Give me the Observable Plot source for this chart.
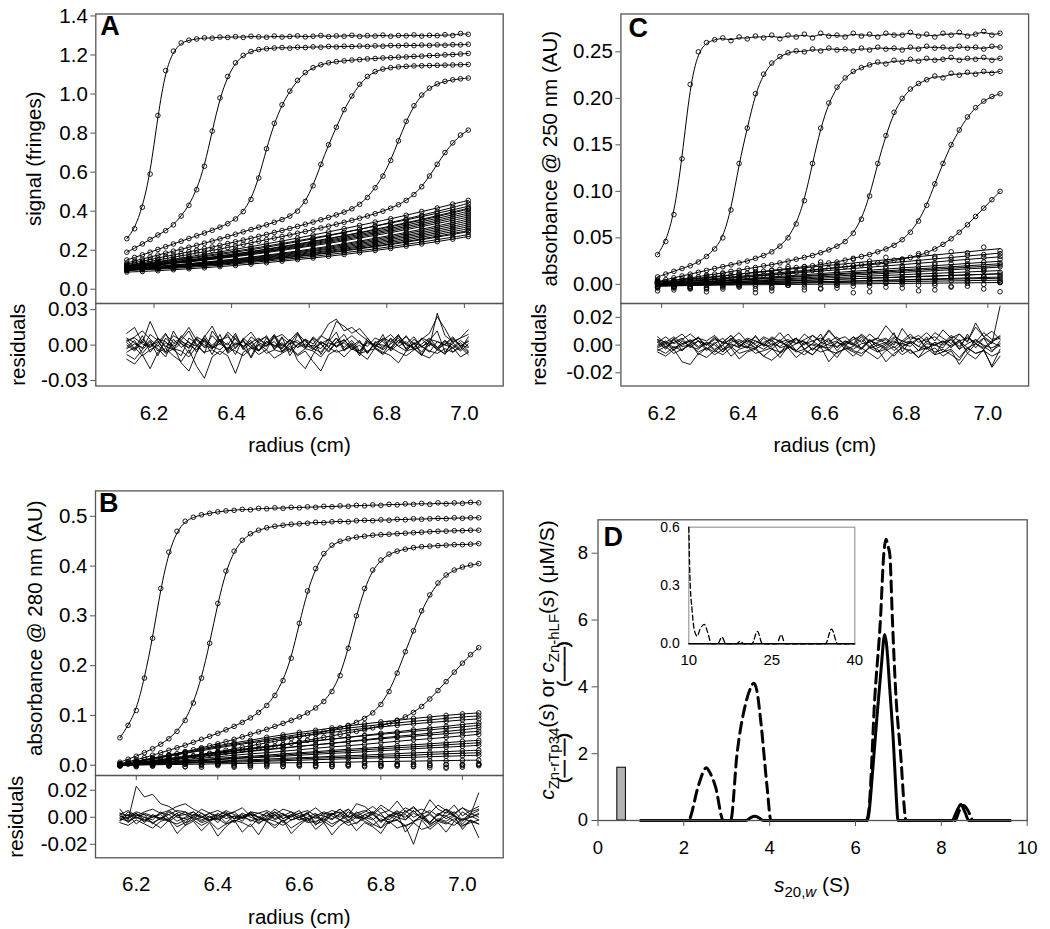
<!DOCTYPE html>
<html>
<head>
<meta charset="utf-8">
<script src="https://cdn.jsdelivr.net/npm/d3@7"></script>
<script src="https://cdn.jsdelivr.net/npm/@observablehq/plot@0.6"></script>
<style>
html,body{margin:0;padding:0;background:#fff;}
#fig{position:relative;width:1050px;height:929px;overflow:hidden;background:#fff;font-family:'Liberation Sans',Arial,Helvetica,sans-serif;}
</style>
</head>
<body>
<div id="fig"></div>
<script>
// ---------------- tick labels ----------------
const xTicksRadius = [6.2, 6.4, 6.6, 6.8, 7.0];
const yTicksA = [0, 0.2, 0.4, 0.6, 0.8, 1.0, 1.2, 1.4];
const yTicksB = [0, 0.1, 0.2, 0.3, 0.4, 0.5];
const yTicksC = [0, 0.05, 0.10, 0.15, 0.20, 0.25];
const resTicksA = [-0.03, 0, 0.03];
const resTicksBC = [-0.02, 0, 0.02];
const xTicksD = [0, 2, 4, 6, 8, 10];
const yTicksD = [0, 2, 4, 6, 8];
const xTicksInset = [10, 25, 40];
const yTicksInset = [0, 0.3, 0.6];

// ---------------- radius grids (cm) ----------------
const gridA = [6.13,6.15,6.17,6.19,6.21,6.23,6.25,6.27,6.29,6.31,6.33,6.35,6.37,6.39,6.41,6.43,6.45,6.47,6.49,6.51,6.53,6.55,6.57,6.59,6.61,6.63,6.65,6.67,6.69,6.71,6.73,6.75,6.77,6.79,6.81,6.83,6.85,6.87,6.89,6.91,6.93,6.95,6.97,6.99,7.01];
const gridA2 = [6.13,6.17,6.21,6.25,6.29,6.33,6.37,6.41,6.45,6.49,6.53,6.57,6.61,6.65,6.69,6.73,6.77,6.81,6.85,6.89,6.93,6.97,7.01];
const gridB = [6.16,6.18,6.20,6.22,6.24,6.26,6.28,6.30,6.32,6.34,6.36,6.38,6.40,6.42,6.44,6.46,6.48,6.50,6.52,6.54,6.56,6.58,6.60,6.62,6.64,6.66,6.68,6.70,6.72,6.74,6.76,6.78,6.80,6.82,6.84,6.86,6.88,6.90,6.92,6.94,6.96,6.98,7.00,7.02,7.04];
const gridB2 = [6.16,6.20,6.24,6.28,6.32,6.36,6.40,6.44,6.48,6.52,6.56,6.60,6.64,6.68,6.72,6.76,6.80,6.84,6.88,6.92,6.96,7.00,7.04];
const gridC = [6.19,6.21,6.23,6.25,6.27,6.29,6.31,6.33,6.35,6.37,6.39,6.41,6.43,6.45,6.47,6.49,6.51,6.53,6.55,6.57,6.59,6.61,6.63,6.65,6.67,6.69,6.71,6.73,6.75,6.77,6.79,6.81,6.83,6.85,6.87,6.89,6.91,6.93,6.95,6.97,6.99,7.01,7.03];
const gridC2 = [6.19,6.23,6.27,6.31,6.35,6.39,6.43,6.47,6.51,6.55,6.59,6.63,6.67,6.71,6.75,6.79,6.83,6.87,6.91,6.95,6.99,7.03];

// ---------------- Panel A: signal (fringes) x 1000 ----------------
const A1 = [259,310,420,590,890,1120,1220,1262,1276,1282,1288,1286,1292,1290,1294,1290,1296,1293,1291,1297,1292,1295,1298,1293,1296,1300,1294,1298,1296,1301,1295,1299,1297,1302,1296,1300,1298,1303,1297,1301,1299,1304,1300,1310,1306];
const A2 = [190,210,232,255,278,300,330,375,430,510,630,810,980,1090,1160,1198,1218,1228,1232,1236,1238,1235,1240,1238,1242,1240,1244,1241,1245,1243,1246,1244,1247,1245,1249,1247,1250,1248,1251,1249,1252,1250,1253,1252,1255];
const A3 = [150,163,176,190,204,218,232,246,260,274,288,302,318,336,360,398,460,570,720,850,945,1015,1070,1110,1135,1150,1160,1166,1170,1174,1176,1180,1182,1185,1186,1189,1190,1193,1194,1197,1198,1201,1202,1205,1208];
const A4 = [135,145,155,165,175,185,195,205,215,225,236,247,258,270,282,294,306,318,330,343,357,375,400,450,530,640,740,830,920,990,1050,1090,1115,1128,1135,1139,1142,1144,1145,1146,1147,1148,1149,1150,1152];
const A5 = [128,136,144,152,160,168,176,184,192,200,208,216,225,234,243,252,261,271,281,291,301,311,322,333,344,356,368,381,395,412,435,470,520,580,660,760,860,940,995,1030,1052,1065,1073,1078,1082];
const A6 = [122,129,136,143,150,157,164,171,178,185,192,199,206,214,222,230,238,246,254,262,270,278,287,296,305,314,323,333,343,353,364,375,387,400,415,433,455,485,525,580,640,700,750,790,815];
const AL1 = [120,131,142,154,166,179,191,205,218,233,247,262,278,294,310,327,344,361,379,398,416,436,455];
const AL2 = [118,128,138,149,160,172,183,196,208,221,235,248,263,277,292,307,323,339,355,372,389,407,425];
const AL3 = [115,123,131,139,149,159,169,180,191,204,216,229,243,257,272,288,303,320,337,354,372,391,410];
const AL4 = [112,119,127,135,144,153,163,173,184,195,207,220,233,246,260,275,289,305,321,337,354,372,390];
const AL5 = [110,117,124,132,140,148,158,167,177,188,199,211,223,235,248,262,276,290,305,321,337,353,370];
const AL6 = [107,112,117,123,130,137,144,153,162,171,181,192,203,215,228,241,255,269,284,300,316,333,350];
const AL7 = [104,108,113,119,125,132,139,146,155,164,173,183,194,205,216,229,241,255,269,283,298,314,330];
const AL8 = [101,105,110,115,120,126,133,140,148,156,165,174,184,194,205,216,228,240,253,267,281,295,310];
const AL9 = [98,102,106,111,116,122,128,135,142,150,158,167,176,186,196,207,218,229,241,254,267,281,295];
const AL10 = [95,99,103,107,112,118,123,130,137,144,152,160,168,178,187,197,207,218,230,242,254,267,280];
const AL11 = [119,127,136,146,156,167,178,190,202,215,229,244,258,274,290,307,324,342,360,379,399,419,440];
const AL12 = [116,124,132,141,150,160,171,182,193,206,219,232,246,260,275,291,307,324,341,358,377,396,415];
const AL13 = [113,120,128,137,146,155,166,176,187,199,211,224,238,251,266,281,296,312,329,346,363,381,400];
const AL14 = [111,118,126,133,142,151,160,170,181,192,203,215,228,241,254,268,283,298,313,329,346,363,380];
const AL15 = [108,113,118,125,131,139,147,155,165,175,185,196,208,220,233,247,261,276,291,308,324,342,360];
const AL16 = [105,109,115,121,127,134,141,149,158,167,177,187,198,210,222,235,248,262,276,291,307,323,340];
const AL17 = [102,106,111,116,122,129,136,143,151,160,169,178,188,199,210,222,235,247,261,275,289,305,320];
const AL18 = [99,103,107,112,118,124,130,137,144,152,161,169,179,189,199,210,221,233,245,258,272,286,300];
const AL19 = [88,91,95,100,105,110,116,122,129,136,144,152,160,169,178,188,199,209,221,232,244,257,270];
// residuals A x 1000
const RA1 = [5,-3,8,-6,2,10,-4,-9,6,1,-7,12,3,-5,8,-2,-10,4,7,-3,1,-6,9,-1,5,-8,3,11,-4,2,-7,6,-2,9,-5,1,8,-3,-9,4,12,-6,2,-4,7];
const RA2 = [-8,-12,-4,3,-9,6,-1,-15,-22,-6,4,-3,9,-7,-2,5,-11,1,-4,8,-6,2,-13,-20,-8,3,-2,6,-5,1,-9,4,-3,-7,2,9,-4,1,-6,3,-2,-8,5,-1,-6];
const RA3 = [10,15,2,20,6,-2,8,4,12,-1,7,16,3,9,-3,5,11,2,8,-4,6,1,10,3,-2,7,18,22,12,15,9,4,-1,6,3,8,1,-3,5,10,24,14,2,6,9];
const RA4 = [-2,4,-7,1,-3,-10,5,-2,3,-6,8,-1,-4,2,-8,6,0,-5,3,-2,7,-9,1,4,-3,-6,2,-1,5,-4,0,-7,3,-2,6,-1,-5,2,-8,1,-3,4,-6,0,-2];
const RA5 = [-12,-16,-8,-20,-6,-3,-9,-14,-4,-18,-28,-10,-5,-9,-24,-6,-2,-8,-4,-11,-7,-3,-9,-5,-14,-22,-8,-4,-10,-3,-7,-12,-2,-6,-9,-15,-5,-3,-8,-11,-4,-7,-2,-10,-6];
const RA6 = [3,7,12,5,-1,9,2,6,15,4,-2,8,1,11,5,-3,7,2,-1,6,9,3,-2,5,1,8,4,20,16,10,14,6,-2,4,9,2,7,1,5,-1,27,8,3,6,13];
const RA7 = [0,-5,3,-2,6,-1,-4,2,-7,5,0,-3,4,-6,1,3,-2,-5,6,-1,2,-4,0,5,-3,1,-6,2,4,-2,-5,3,0,-4,1,6,-3,2,-1,-6,3,0,-2,4,-1];
const RA8 = [6,2,-3,9,4,-6,12,1,-2,7,3,-8,5,0,10,-4,2,6,-1,8,-3,4,11,-2,6,1,-5,3,9,-1,4,-7,2,5,-3,8,0,-2,6,3,-4,1,7,-1,3];
const RA9 = [2,-4,5,-1,3,-6,1,4,-3,6,-2,0,5,-4,2,-1,4,-5,3,0,-3,5,-2,1,-4,3,-1,6,-2,4,-5,2,0,-3,5,-1,3,-4,1,6,-2,4,-3,2,-5];
const RA10 = [-3,1,-2,4,-5,2,-1,3,0,-4,5,-2,1,-3,6,-1,2,-4,0,3,-5,1,4,-2,0,-3,5,-1,2,-4,3,-6,1,0,-2,4,-3,5,-1,2,-4,3,0,-5,1];
const RA11 = [4,6,1,-2,5,3,-4,8,2,-1,6,-3,4,7,0,3,-2,5,1,9,-1,4,2,-3,7,1,5,-2,3,8,2,-1,6,3,-4,4,1,7,-2,5,3,0,6,-1,4];
const RA12 = [-6,-2,-9,-4,0,-7,-3,-5,-10,-1,-6,-4,-8,-2,-5,-9,-3,0,-7,-4,-6,-1,-8,-3,-5,-10,-2,-6,-4,-1,-7,-5,-3,-8,-2,-6,-9,-4,-1,-5,-7,-3,-6,-2,-8];

// ---------------- Panel B: absorbance @ 280 nm x 1000 ----------------
const B1 = [55,80,110,175,255,355,428,470,490,498,503,506,509,511,512,514,513,516,515,517,516,518,517,519,518,520,519,521,520,522,521,523,522,524,523,525,524,526,524,527,525,527,526,528,527];
const B2 = [6,12,18,25,33,42,53,68,90,125,175,245,325,390,430,452,465,472,477,480,482,484,485,486,488,487,489,490,489,491,492,491,493,492,494,493,495,494,495,496,495,497,496,497,497];
const B3 = [3,7,11,15,20,25,30,35,40,46,52,58,64,71,78,86,95,106,120,140,170,215,285,350,395,425,442,450,455,458,460,462,463,464,465,466,467,468,469,470,470,471,471,472,472];
const B4 = [2,5,8,11,14,17,20,23,27,31,35,39,43,47,52,57,62,67,72,78,84,90,97,105,115,128,148,180,235,300,355,392,412,424,430,434,437,439,440,441,442,443,443,444,445];
const B5 = [1,3,5,7,9,11,13,15,17,19,21,24,27,30,33,36,39,42,45,48,51,54,57,60,63,67,71,75,80,86,94,105,122,148,185,228,270,310,342,366,382,392,398,402,405];
const B6 = [0,2,4,6,8,10,12,14,16,18,20,22,24,26,28,30,32,34,36,38,41,44,47,50,53,56,59,62,65,68,71,75,79,84,90,97,106,118,133,150,168,187,205,222,236];
const BL1 = [0,7,14,21,27,33,39,45,50,56,61,66,70,75,79,83,87,90,94,97,100,103,105];
const BL2 = [0,6,12,18,24,29,35,40,45,49,54,58,62,66,70,74,77,80,83,86,88,91,93];
const BL3 = [0,4,9,13,17,21,25,29,33,37,41,45,49,53,56,60,64,67,71,75,78,82,85];
const BL4 = [0,3,7,10,14,17,21,24,28,31,34,38,41,44,48,51,55,58,61,64,68,71,75];
const BL5 = [0,3,6,8,11,14,17,20,23,25,28,31,34,37,39,42,45,48,51,53,56,59,62];
const BL6 = [0,2,5,7,9,11,14,16,18,20,23,25,27,30,32,34,36,39,41,43,45,48,50];
const BL7 = [0,2,4,5,7,9,11,13,15,16,18,20,22,24,25,27,29,31,33,35,36,38,40];
const BL8 = [0,1,3,4,5,7,8,10,11,12,14,15,16,18,19,20,22,23,25,26,27,29,30];
const BL9 = [0,1,2,3,4,5,5,6,7,8,9,10,11,12,13,14,15,15,16,17,18,19,20];
const BL10 = [0,0,1,1,2,2,3,3,4,4,5,5,5,6,6,7,7,8,8,9,9,10,10];
const BL11 = [0,7,13,19,25,31,37,42,47,52,57,62,66,70,75,78,82,85,88,91,94,97,99];
const BL12 = [0,4,9,13,18,22,26,30,34,38,41,45,49,52,56,59,62,65,68,71,74,77,80];
const BL13 = [0,4,8,11,15,18,22,25,29,32,35,38,41,44,47,50,53,56,58,61,63,66,68];
const BL14 = [0,2,4,6,8,10,12,14,16,18,20,23,25,27,29,31,33,35,37,39,41,43,45];
const BL15 = [0,1,2,3,5,6,7,8,9,10,11,13,14,15,16,17,18,19,20,22,23,24,25];
const BN1 = [2,-3,1,-2,3,-1,2,-4,0,3,-2,1,-3,2,0,-1,3,-2,1,-5,2,-1,3];
const BN2 = [-2,1,-1,3,-3,2,-1,0,-4,1,3,-2,0,-3,2,4,-1,1,-3,0,-6,2,1];
const BN3 = [-1,3,-2,0,2,-4,1,3,-1,-3,2,0,4,-2,1,-3,0,2,-2,3,-4,1,-1];
const BN4 = [1,-2,2,-1,-3,1,3,-2,2,0,-3,2,-1,1,-2,3,-3,0,2,-1,1,-4,2];
// residuals B x 1000
const RB1 = [6,-2,23,15,17,10,8,4,2,-1,3,0,-2,1,4,-1,2,0,-3,1,3,-2,0,2,-1,3,1,-2,4,0,-1,2,-3,1,5,-2,3,0,-4,2,6,1,-3,2,18];
const RB2 = [-3,2,-5,0,-4,-8,-2,-12,-6,-3,-10,-4,-14,-7,-2,-11,-5,-13,-3,-8,-2,-12,-6,-1,-9,-4,-13,-6,-2,-10,-4,-7,-12,-3,-8,-6,-20,-2,-9,-4,-11,-3,-7,-2,-15];
const RB3 = [1,-1,3,-2,0,2,-3,1,4,-2,0,3,-1,2,-4,1,3,0,-2,4,-1,2,5,-3,1,-2,3,0,6,-1,2,4,-3,1,-2,5,0,3,-4,2,1,-3,4,0,2];
const RB4 = [-2,4,0,-3,2,-1,5,8,10,6,3,-2,1,4,-1,2,-3,0,3,-2,1,4,-2,0,3,-4,2,6,1,10,8,3,9,5,12,4,7,2,13,6,3,9,1,5,8];
const RB5 = [3,-4,1,2,-5,0,-2,3,-6,1,-3,0,2,-4,1,-1,3,-5,0,2,-3,1,-2,4,-6,0,3,-2,1,-5,2,-1,-8,0,3,-11,-4,2,-6,-1,-3,1,-9,-2,-5];
const RB6 = [0,2,-1,3,1,-2,4,0,-1,2,1,-3,0,2,-1,3,0,-2,1,4,-1,2,0,-3,2,1,-2,3,0,2,-1,4,1,-2,3,0,5,-1,2,-3,4,1,-2,3,0];
const RB7 = [-4,-6,-2,-5,-8,-3,-1,-7,-4,-2,-6,-3,-9,-5,-2,-4,-7,-1,-3,-6,-2,-8,-4,-1,-5,-3,-7,-2,-6,-4,-1,-5,-8,-3,-2,-6,-4,-9,-7,-3,-5,-1,-6,-4,-2];
const RB8 = [2,5,1,4,6,3,2,5,4,1,6,3,5,2,4,7,1,3,5,2,6,4,1,3,7,2,5,3,6,1,4,8,3,5,2,7,4,6,3,9,5,2,7,4,6];
const RB9 = [1,-3,2,0,-2,4,-1,3,-4,2,0,-2,3,-1,1,-3,4,0,-2,2,-4,1,3,-1,0,-3,2,4,-2,1,-1,3,-4,2,0,-2,5,-1,3,-3,1,4,-2,0,3];
const RB10 = [-2,0,3,-4,1,-1,2,-3,0,4,-2,1,-4,3,-1,0,2,-3,4,-1,2,-2,0,3,-4,1,-1,2,-3,4,0,-2,3,-5,1,2,-3,1,-4,3,-1,2,-5,1,-2];
const RB11 = [3,1,4,2,0,3,5,1,2,4,0,3,1,5,2,0,4,3,1,6,2,0,3,5,1,4,2,6,0,3,5,2,7,1,4,3,8,2,5,1,6,3,7,2,5];
const RB12 = [-1,-3,0,-2,-4,-1,-3,-5,-2,0,-4,-2,-1,-5,-3,0,-2,-4,-1,-3,-6,-2,0,-4,-3,-1,-5,-2,-4,0,-3,-6,-1,-4,-2,-7,-3,-1,-5,-2,-4,-6,-1,-3,-5];

// ---------------- Panel C: absorbance @ 250 nm x 1000 ----------------
const C1 = [32,46,75,135,215,250,260,263,265,262,266,264,267,265,268,264,268,266,269,265,270,267,268,266,270,267,269,266,270,268,268,271,267,269,266,270,268,271,267,269,272,268,270];
const C2 = [8,11,14,17,20,24,30,38,50,80,130,168,205,226,238,245,249,251,250,253,251,254,252,253,251,254,252,255,253,254,252,255,253,256,254,255,253,256,254,255,253,256,255];
const C3 = [3,5,7,9,11,13,15,17,19,21,23,25,28,31,35,41,50,65,90,130,168,195,212,222,229,233,236,239,237,241,239,242,240,243,241,242,244,241,243,242,244,241,243];
const C4 = [2,3,4,6,7,8,10,11,12,14,15,17,18,20,21,23,25,27,29,31,34,37,41,46,55,70,95,130,160,185,200,210,216,220,224,222,227,225,228,226,229,227,229];
const C5 = [1,2,3,4,5,6,7,8,9,10,11,12,13,14,15,16,17,18,19,20,21,23,24,26,28,30,32,35,38,42,48,56,68,85,108,130,150,166,180,190,197,202,205];
const C6 = [0,1,2,2,3,4,5,5,6,7,8,8,9,10,11,11,12,13,14,15,16,17,18,19,20,21,22,23,24,26,27,29,31,34,38,43,49,56,64,73,82,91,100];
const CL1 = [2,0,8,5,12,9,16,11,19,17,24,20,27,22,29,25,33,28,35,31,40,36];
const CL2 = [-3,4,1,9,5,12,8,15,11,19,14,21,17,25,19,27,23,30,26,34,29,33];
const CL3 = [3,-2,6,2,9,4,12,7,14,10,17,12,20,15,23,18,25,21,29,22,32,30];
const CL4 = [-1,3,0,6,2,8,4,11,6,13,9,15,11,18,13,20,16,23,18,26,21,27];
const CL5 = [2,-3,4,-1,7,2,9,4,11,6,14,8,16,10,17,13,19,15,22,17,24,21];
const CL6 = [-4,1,-2,4,0,6,2,9,3,10,6,12,7,14,9,16,11,18,12,20,14,19];
const CL7 = [1,-4,3,-1,5,0,7,2,8,3,10,4,11,6,13,7,14,9,16,10,17,13];
const CL8 = [-2,2,-5,3,-1,5,0,6,1,7,3,8,3,10,5,11,6,12,7,13,8,11];
const CL9 = [3,-2,1,-4,4,-1,5,-3,6,0,7,-1,8,1,7,2,9,1,10,3,8,5];
const CL10 = [-3,1,-4,2,-2,3,-5,1,-1,4,-4,2,-2,5,-3,3,-1,6,-2,4,0,2];
const CL11 = [0,3,-2,5,1,7,3,9,5,11,7,13,9,15,11,16,13,18,15,20,17,23];
const CL12 = [1,-2,3,-3,4,0,6,-1,7,2,8,1,9,3,11,4,12,6,13,7,15,9];
const CL13 = [-2,0,-4,1,-3,2,-2,4,-1,5,0,6,1,7,2,8,3,9,4,10,5,7];
const CL14 = [4,-3,2,-5,3,-2,4,-4,5,-3,4,-1,6,-2,5,0,7,-1,8,1,9,3];
const CN1 = [5,-6,2,-8,7,-3,4,-7,1,6,-5,3,-9,2,8,-4,5,-6,9,-2,6,-8];
const CN2 = [-7,4,-3,8,-5,2,-9,5,-1,-6,7,-4,3,-8,1,6,-7,4,-3,9,-5,2];
// residuals C x 1000
const RC1 = [3,-2,5,-4,1,6,-3,2,-5,4,0,-2,7,-1,3,-6,2,5,-3,1,8,-4,2,-1,6,-3,4,-2,1,9,-5,3,-1,6,-7,2,4,-3,8,-2,5,1,28];
const RC2 = [-5,-8,-3,-12,-14,-6,-9,-4,-7,-2,-10,-5,-3,-8,-11,-6,-2,-9,-4,-7,-1,-12,-5,-3,-8,-2,-6,-10,-4,-1,-7,-3,-9,-5,-2,-8,-4,-14,-6,-10,-3,-16,-8];
const RC3 = [2,6,1,4,8,3,0,5,2,7,-1,4,1,6,3,9,2,5,0,7,3,11,4,1,6,2,8,3,5,0,12,4,7,2,9,5,1,8,3,13,6,2,7];
const RC4 = [-1,2,-3,0,3,-2,1,-4,2,0,-1,3,-2,1,-3,2,0,-4,1,3,-1,-2,2,0,-3,1,2,-5,0,3,-1,2,-4,1,0,3,-2,4,-6,1,-3,2,-1];
const RC5 = [4,-1,2,5,-2,3,0,6,-3,2,4,1,-2,5,0,3,-1,4,2,-3,1,5,-2,3,0,6,-1,2,4,-2,3,1,5,-3,2,0,4,-1,6,1,-2,3,5];
const RC6 = [-3,-6,-1,-4,2,-7,-2,-5,0,-8,-3,-1,-6,-4,-2,-9,-1,-5,-3,-7,0,-4,-6,-2,-5,-8,-1,-3,-12,-6,-2,-4,-9,-1,-5,-3,-7,-11,-2,-6,-4,-15,-3];
const RC7 = [0,3,-2,1,4,-1,2,-3,0,5,1,-2,3,0,-1,4,-2,1,3,-4,2,0,-1,3,1,-2,4,0,-3,2,1,-1,5,-2,0,3,-1,2,-4,4,0,-2,1];
const RC8 = [6,1,4,8,2,5,3,7,1,4,9,2,6,0,5,3,8,1,4,7,2,10,4,6,1,8,3,5,14,7,2,6,4,9,3,11,5,8,2,16,6,10,4];
const RC9 = [2,-3,4,-1,0,3,-4,1,5,-2,3,-1,-3,2,4,-2,0,5,-3,1,-1,4,-4,2,0,-3,3,1,-2,5,-1,2,-4,3,0,-2,6,-3,1,4,-1,-5,3];
const RC10 = [-2,1,-4,3,-1,-3,2,0,-5,1,-2,4,0,-3,1,-1,3,-4,2,0,-2,1,3,-3,-1,4,-2,0,2,-4,1,3,-1,-3,2,-5,0,3,-2,1,5,-4,0];
const RC11 = [4,2,6,1,3,5,0,4,2,7,1,5,3,0,6,2,4,1,8,3,5,2,6,0,4,7,2,5,1,6,3,8,2,4,6,1,7,3,5,2,9,4,6];
const RC12 = [-4,-1,-6,-3,0,-5,-2,-7,-3,-1,-6,-4,-2,-8,-3,-5,-1,-4,-7,-2,-5,-3,-9,-1,-4,-6,-2,-5,-3,-8,-1,-6,-4,-2,-7,-5,-3,-9,-2,-6,-4,-8,-5];

// ---------------- Panel D: c(s) distributions ----------------
const hlfS = [1.0,3.45,3.55,3.65,3.75,3.85,6.28,6.32,6.40,6.50,6.60,6.68,6.72,6.80,6.88,6.95,6.99,8.25,8.35,8.45,8.55,8.64,9.6];
const hlfC = [0,0,0.08,0.13,0.08,0,0,0.3,1.5,3.1,4.6,5.57,5.3,3.9,2.4,0.7,0,0,0.25,0.48,0.25,0,0];
const tp34S = [1.0,2.10,2.33,2.45,2.52,2.60,2.74,2.92,3.09,3.24,3.44,3.55,3.63,3.70,3.79,3.94,4.03,6.25,6.31,6.45,6.58,6.66,6.71,6.76,6.80,6.86,6.93,7.05,7.18,8.32,8.42,8.52,8.62,8.74,9.6];
const tp34C = [0,0,1.0,1.45,1.58,1.45,1.0,0,0,2.0,3.5,3.95,4.11,3.9,3.0,1.0,0,0,0.3,3.7,6.0,8.0,8.42,8.2,7.95,6.0,4.0,2.0,0,0,0.3,0.45,0.3,0,0];
const barLo = [0.45];
const barHi = [0.65];
const barC = [1.58];
const insetS = [10,10.2,10.6,11.0,11.5,12.1,12.8,13.4,14.1,15.2,16.0,16.7,18.6,19.3,19.9,21.4,22.4,23.3,25.9,26.7,27.4,34.7,35.8,36.9,40];
const insetC = [0.6,0.35,0.17,0.07,0.04,0.08,0.10,0.06,0,0,0.034,0,0,0.013,0,0,0.064,0,0,0.047,0,0,0.076,0,0];

// ---------------- helpers ----------------
const F = "'Liberation Sans', Arial, Helvetica, sans-serif";
const GRAY = "#555";
const FS = 20.5;
const fig = document.getElementById("fig");
const baseStyle = (fs) => ({fontFamily: F, fontSize: fs + "px", color: "black", background: "transparent", overflow: "visible", maxWidth: "none"});

function place(svg, left, top) {
  svg.style.position = "absolute";
  svg.style.left = left + "px";
  svg.style.top = top + "px";
  fig.appendChild(svg);
  return svg;
}
function toRows(grid, series, unit, tag) {
  const out = [];
  series.forEach((ys, k) => ys.forEach((v, i) => {
    if (i < grid.length) out.push({r: grid[i], v: v * unit, k: tag + k});
  }));
  return out;
}
const zip = (xs, ys) => xs.map((s, i) => ({s, c: ys[i]}));

function mainPanel(o) {
  const marks = [
    Plot.dot(o.points, {x: "r", y: "v", r: 2.3, stroke: "black", strokeWidth: 0.9, fill: "none", clip: true}),
    Plot.line(o.fits, {x: "r", y: "v", z: "k", curve: "basis", stroke: "black", strokeWidth: 1, clip: true})
  ];
  if (o.regress) marks.push(Plot.linearRegressionY(o.regress, {x: "r", y: "v", z: "k", stroke: "black", strokeWidth: 1, ci: 0}));
  marks.push(
    Plot.frame({stroke: GRAY, strokeWidth: 1.3}),
    Plot.axisY(o.yTicks, {tickSize: 5, tickPadding: 3, fontSize: FS, tickFormat: d => d.toFixed(o.dec), stroke: GRAY, label: null}),
    Plot.axisX(xTicksRadius, {anchor: "bottom", tickSize: 5, tickFormat: () => "", stroke: GRAY, label: null}),
    Plot.text([o.letter], {frameAnchor: "top-left", dx: o.ldx, dy: o.ldy, fontSize: 27, fontWeight: "bold", textAnchor: "start", lineAnchor: "top"}),
    Plot.text([o.title], {frameAnchor: "left", dx: o.tdx, dy: o.tdy || 0, rotate: -90, fontSize: FS, textAnchor: "middle", lineAnchor: "middle"})
  );
  const svg = Plot.plot({
    width: o.width, height: o.height,
    marginLeft: o.mL, marginRight: o.mR, marginTop: o.mT, marginBottom: 0,
    x: {domain: o.xDom}, y: {domain: o.yDom},
    style: baseStyle(FS),
    marks
  });
  return place(svg, o.left, o.top);
}
function residPanel(o) {
  const svg = Plot.plot({
    width: o.width, height: o.height,
    marginLeft: o.mL, marginRight: o.mR, marginTop: 0, marginBottom: o.height - o.frameH,
    x: {domain: o.xDom}, y: {domain: o.yDom},
    style: baseStyle(FS),
    marks: [
      Plot.line(o.rows, {x: "r", y: "v", z: "k", stroke: "black", strokeWidth: 0.9}),
      Plot.frame({stroke: GRAY, strokeWidth: 1.3}),
      Plot.axisY(o.yTicks, {tickSize: 5, tickPadding: 3, fontSize: FS, tickFormat: d => d.toFixed(2), stroke: GRAY, label: null}),
      Plot.axisX(xTicksRadius, {anchor: "bottom", tickSize: 0, tickPadding: 19, fontSize: FS, tickFormat: d => d.toFixed(1), label: null}),
      Plot.text(["residuals"], {frameAnchor: "left", dx: o.rdx, rotate: -90, fontSize: FS, textAnchor: "middle", lineAnchor: "middle"}),
      Plot.text(["radius (cm)"], {frameAnchor: "bottom", dy: 59.5, fontSize: FS, textAnchor: "middle", lineAnchor: "middle"})
    ]
  });
  return place(svg, o.left, o.top);
}

// ---------------- Panel A ----------------
const fitA = toRows(gridA, [A1, A2, A3, A4, A5, A6], 0.001, "a").concat(
  toRows(gridA2, [AL1, AL2, AL3, AL4, AL5, AL6, AL7, AL8, AL9, AL10, AL11, AL12, AL13, AL14, AL15, AL16, AL17, AL18, AL19], 0.001, "al"));
mainPanel({left: 0, top: 0, width: 530, height: 303, mL: 95.3, mR: 27.3, mT: 13.5,
  xDom: [6.05, 7.1], yDom: [-0.073, 1.41], yTicks: yTicksA, dec: 1,
  points: fitA, fits: fitA, letter: "A", ldx: 4.5, ldy: 2, title: "signal (fringes)", tdx: -61.5});
residPanel({left: 0, top: 303, width: 530, height: 157, frameH: 82.5, mL: 95.3, mR: 27.3,
  xDom: [6.05, 7.1], yDom: [-0.0346, 0.0352], yTicks: resTicksA, rdx: -77.5,
  rows: toRows(gridA, [RA1, RA2, RA3, RA4, RA5, RA6, RA7, RA8, RA9, RA10, RA11, RA12], 0.001, "ra")});

// ---------------- Panel B ----------------
const fitB = toRows(gridB, [B1, B2, B3, B4, B5, B6], 0.001, "b").concat(
  toRows(gridB2, [BL1, BL2, BL3, BL4, BL5, BL6, BL7, BL8, BL9, BL10, BL11, BL12, BL13, BL14, BL15], 0.001, "bl"));
const ptsB = fitB.concat(toRows(gridB2, [BN1, BN2, BN3, BN4], 0.001, "bn"));
mainPanel({left: 0, top: 460, width: 530, height: 315, mL: 95, mR: 27.3, mT: 30.4,
  xDom: [6.1, 7.1], yDom: [-0.0207, 0.551], yTicks: yTicksB, dec: 1,
  points: ptsB, fits: fitB, letter: "B", ldx: 3.5, ldy: 2, title: "absorbance @ 280 nm (AU)", tdx: -60.2, tdy: -5});
residPanel({left: 0, top: 775, width: 530, height: 154, frameH: 82.3, mL: 95, mR: 27.3,
  xDom: [6.1, 7.1], yDom: [-0.030, 0.0309], yTicks: resTicksBC, rdx: -79,
  rows: toRows(gridB, [RB1, RB2, RB3, RB4, RB5, RB6, RB7, RB8, RB9, RB10, RB11, RB12], 0.001, "rb")});

// ---------------- Panel C ----------------
const fitC = toRows(gridC, [C1, C2, C3, C4, C5, C6], 0.001, "c");
const lowC = toRows(gridC2, [CL1, CL2, CL3, CL4, CL5, CL6, CL7, CL8, CL9, CL10, CL11, CL12, CL13, CL14], 0.001, "cl");
const noiseC = toRows(gridC2, [CN1, CN2], 0.001, "cn");
mainPanel({left: 520, top: 0, width: 530, height: 303, mL: 100.4, mR: 21.9, mT: 13.5,
  xDom: [6.1, 7.1], yDom: [-0.0206, 0.2907], yTicks: yTicksC, dec: 2,
  points: fitC.concat(lowC, noiseC), fits: fitC, regress: lowC, letter: "C", ldx: 7.5, ldy: 3.5,
  title: "absorbance @ 250 nm (AU)", tdx: -70.8});
residPanel({left: 520, top: 303, width: 530, height: 157, frameH: 82.5, mL: 100.4, mR: 21.9,
  xDom: [6.1, 7.1], yDom: [-0.0295, 0.030], yTicks: resTicksBC, rdx: -81,
  rows: toRows(gridC, [RC1, RC2, RC3, RC4, RC5, RC6, RC7, RC8, RC9, RC10, RC11, RC12], 0.001, "rc")});

// ---------------- Panel D ----------------
const barRows = barLo.map((lo, i) => ({lo, hi: barHi[i], c: barC[i]}));
const svgD = Plot.plot({
  width: 530, height: 469, marginLeft: 77.5, marginRight: 23.3, marginTop: 59.3, marginBottom: 109,
  x: {domain: [0, 10]}, y: {domain: [0, 9]},
  style: baseStyle(18.5),
  marks: [
    Plot.rectY(barRows, {x1: "lo", x2: "hi", y: "c", fill: "#b4b4b4", stroke: "black", strokeWidth: 1}),
    Plot.line(zip(tp34S, tp34C), {x: "s", y: "c", curve: "monotone-x", stroke: "black", strokeWidth: 3, strokeDasharray: "11,6"}),
    Plot.line(zip(hlfS, hlfC), {x: "s", y: "c", curve: "monotone-x", stroke: "black", strokeWidth: 3, strokeLinejoin: "round"}),
    Plot.frame({stroke: GRAY, strokeWidth: 1.3}),
    Plot.axisX(xTicksD, {tickSize: 6, tickPadding: 14, fontSize: 18.5, stroke: GRAY, label: null}),
    Plot.axisY(yTicksD, {tickSize: 6, tickPadding: 4, fontSize: 18.5, stroke: GRAY, label: null}),
    Plot.text(["D"], {frameAnchor: "top-left", dx: 5.5, dy: 7, fontSize: 27, fontWeight: "bold", textAnchor: "start", lineAnchor: "top"})
  ]
});
place(svgD, 520, 460);
{
  const g = d3.select(svgD).append("g").attr("font-family", F).attr("fill", "black");
  const tx = g.append("text").attr("x", 292).attr("y", 432).attr("text-anchor", "middle").attr("font-size", 21);
  tx.append("tspan").attr("font-style", "italic").text("s");
  tx.append("tspan").attr("font-size", 15).attr("dy", 5).text("20,");
  tx.append("tspan").attr("font-size", 15).attr("font-style", "italic").text("w");
  tx.append("tspan").attr("dy", -5).text(" (S)");

  const gy = g.append("g").attr("transform", "translate(26.7,200) rotate(-90)");
  const ty = gy.append("text").attr("x", 0).attr("y", 7).attr("text-anchor", "middle").attr("font-size", 21);
  ty.append("tspan").attr("font-style", "italic").text("c");
  ty.append("tspan").attr("font-size", 15).attr("dy", 5).text("Zn-rTp34");
  ty.append("tspan").attr("dy", -5).text("(");
  ty.append("tspan").attr("font-style", "italic").text("s");
  ty.append("tspan").text(") or ");
  ty.append("tspan").attr("font-style", "italic").text("c");
  ty.append("tspan").attr("font-size", 15).attr("dy", 5).text("Zn-hLF");
  ty.append("tspan").attr("dy", -5).text("(");
  ty.append("tspan").attr("font-style", "italic").text("s");
  ty.append("tspan").text(") (\u03BCM/S)");
  gy.append("text").attr("x", -98).attr("y", 22).attr("text-anchor", "middle").attr("font-size", 17)
    .attr("stroke", "black").attr("stroke-width", 0.6).text("(\u2014 \u2014)");
  gy.append("text").attr("x", -4).attr("y", 22).attr("text-anchor", "middle").attr("font-size", 17)
    .attr("stroke", "black").attr("stroke-width", 0.6).text("(\u2014\u2014)");
}

// ---------------- Inset ----------------
const svgI = Plot.plot({
  width: 230, height: 165, marginLeft: 48.3, marginRight: 15.7, marginTop: 11.7, marginBottom: 36.7,
  x: {domain: [10, 40]}, y: {domain: [0, 0.6]},
  style: baseStyle(15),
  marks: [
    Plot.frame({stroke: "#9a9a9a", strokeWidth: 1.2}),
    Plot.line(zip(insetS, insetC), {x: "s", y: "c", curve: "monotone-x", stroke: "black", strokeWidth: 1.3, strokeDasharray: "5,3"}),
    Plot.ruleY([0], {stroke: "black", strokeWidth: 1.5}),
    Plot.axisX(xTicksInset, {tickSize: 0, tickPadding: 11, fontSize: 15, label: null}),
    Plot.axisY(yTicksInset, {tickSize: 0, tickPadding: 9, fontSize: 14, tickFormat: d => d.toFixed(1), label: null})
  ]
});
place(svgI, 640, 515);
</script>
</body>
</html>
